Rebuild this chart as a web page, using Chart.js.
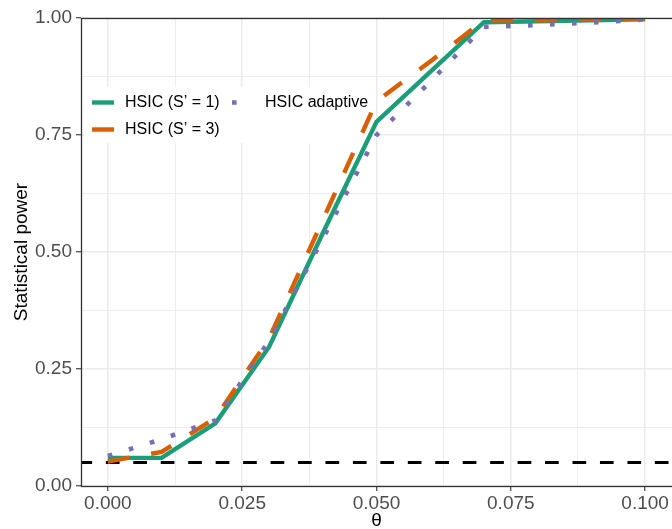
<!DOCTYPE html>
<html>
<head>
<meta charset="utf-8">
<script src="https://cdn.jsdelivr.net/npm/chart.js@4.4.1/dist/chart.umd.min.js"></script>
<style>
  html, body { margin: 0; padding: 0; background: #fff; }
</style>
</head>
<body>
<canvas id="c" width="672" height="529"></canvas>
<script>
// values
var theta = [0, 0.01, 0.02, 0.03, 0.04, 0.05, 0.06, 0.07, 0.08, 0.09, 0.1];
var powerS1 = [0.060, 0.060, 0.134, 0.297, 0.540, 0.778, 0.885, 0.991, 0.993, 0.995, 0.997];
var powerS3 = [0.052, 0.073, 0.145, 0.315, 0.568, 0.822, 0.907, 0.995, 0.995, 0.997, 0.999];
var powerAdaptive = [0.064, 0.100, 0.140, 0.310, 0.528, 0.750, 0.864, 0.981, 0.985, 0.990, 0.997];
var nominalLevel = 0.05;
var seriesLabels = ["HSIC (S\u2019 = 1)", "HSIC (S\u2019 = 3)", "HSIC adaptive"];
var xMajorTicks = [0, 0.025, 0.05, 0.075, 0.1];
var xMinorTicks = [0.0125, 0.0375, 0.0625, 0.0875];
var yMajorTicks = [0, 0.25, 0.5, 0.75, 1];
var yMinorTicks = [0.125, 0.375, 0.625, 0.875];

var FONT = "'Liberation Sans', Arial, sans-serif";
var LEGEND_SLOTS = [{x: 92, y: 102.5}, {x: 92, y: 129.5}, {x: 232, y: 102.5}];

function toPoints(ys){
    return theta.map(function(x, i){ return {x: x, y: ys[i]}; });
}
function tickList(major, minor){
    return major.concat(minor).sort(function(a, b){ return a - b; }).map(function(v){ return {value: v}; });
}
function gridFor(major){
    return {
        color: "#EBEBEB",
        lineWidth: function(c){ return major.indexOf(c.tick.value) >= 0 ? 1.5 : 0.9; },
        tickColor: function(c){ return major.indexOf(c.tick.value) >= 0 ? "#333333" : "rgba(0,0,0,0)"; },
        tickWidth: 1.1,
        tickLength: 5,
        drawTicks: true
    };
}

// dark panel border on top of the lines (right edge falls off the canvas)
var panelBorder = {
    id: "panelBorder",
    afterDatasetsDraw: function(chart){
        var ctx = chart.ctx, a = chart.chartArea;
        ctx.save();
        ctx.strokeStyle = "#333333";
        ctx.lineWidth = 1.3;
        ctx.strokeRect(a.left + 0.5, a.top + 0.5, a.right - a.left + 10, a.bottom - a.top);
        ctx.restore();
    }
};

// ggplot-like legend inside the panel, two columns
var insideLegend = {
    id: "insideLegend",
    beforeDatasetsDraw: function(chart){
        // white background hides the grid, lines still pass over it
        chart.ctx.save();
        chart.ctx.fillStyle = "#ffffff";
        chart.ctx.fillRect(85, 87, 291, 56);
        chart.ctx.restore();
    },
    afterDraw: function(chart){
        var ctx = chart.ctx;
        ctx.save();
        seriesLabels.forEach(function(label, i){
            var ds = chart.data.datasets[i];
            var s = LEGEND_SLOTS[i];
            ctx.beginPath();
            ctx.strokeStyle = ds.borderColor;
            ctx.lineWidth = ds.borderWidth;
            ctx.lineCap = "butt";
            ctx.setLineDash(ds.borderDash || []);
            ctx.moveTo(s.x, s.y);
            ctx.lineTo(s.x + 22, s.y);
            ctx.stroke();
            ctx.setLineDash([]);
            ctx.fillStyle = "#000000";
            ctx.font = "16px " + FONT;
            ctx.textBaseline = "middle";
            ctx.fillText(label, s.x + 33, s.y);
        });
        ctx.restore();
    }
};

new Chart(document.getElementById("c"), {
    type: "line",
    data: {
        datasets: [
            {
                label: seriesLabels[0],
                data: toPoints(powerS1),
                borderColor: "#1B9E77",
                borderWidth: 4.4,
                order: 2
            },
            {
                label: seriesLabels[1],
                data: toPoints(powerS3),
                borderColor: "#D95F02",
                borderWidth: 4.4,
                borderDash: [22, 22],
                order: 1
            },
            {
                label: seriesLabels[2],
                data: toPoints(powerAdaptive),
                borderColor: "#7570B3",
                borderWidth: 4.6,
                borderDash: [4.6, 17.4],
                order: 0
            },
            {
                label: "level",
                data: [{x: -0.005, y: nominalLevel}, {x: 0.105, y: nominalLevel}],
                borderColor: "#000000",
                borderWidth: 3,
                borderDash: [13.7, 13.75],
                borderDashOffset: 2.6,
                order: 3
            }
        ]
    },
    options: {
        responsive: false,
        animation: false,
        devicePixelRatio: 1,
        elements: {
            point: { radius: 0 },
            line: { tension: 0, borderCapStyle: "butt", fill: false }
        },
        layout: { padding: { left: 0, right: 0, top: 18, bottom: 0 }, autoPadding: false },
        plugins: {
            legend: { display: false },
            tooltip: { enabled: false }
        },
        scales: {
            x: {
                type: "linear",
                min: -0.005,
                max: 0.105,
                afterBuildTicks: function(s){ s.ticks = tickList(xMajorTicks, xMinorTicks); },
                afterFit: function(s){ s.height = 43; },
                grid: gridFor(xMajorTicks),
                border: { display: false },
                ticks: {
                    color: "#4D4D4D",
                    font: { family: FONT, size: 19 },
                    padding: 1,
                    maxRotation: 0,
                    autoSkip: false,
                    callback: function(v){ return xMajorTicks.indexOf(v) >= 0 ? v.toFixed(3) : ""; }
                },
                title: {
                    display: true,
                    text: "\u03b8",
                    color: "#000000",
                    font: { family: FONT, size: 19 },
                    padding: { top: 0, bottom: -3.5 }
                }
            },
            y: {
                type: "linear",
                min: 0,
                max: 1,
                afterBuildTicks: function(s){ s.ticks = tickList(yMajorTicks, yMinorTicks); },
                afterFit: function(s){ s.width = 81; },
                grid: gridFor(yMajorTicks),
                border: { display: false },
                ticks: {
                    color: "#4D4D4D",
                    font: { family: FONT, size: 19 },
                    padding: 4,
                    autoSkip: false,
                    callback: function(v){ return yMajorTicks.indexOf(v) >= 0 ? v.toFixed(2) : ""; }
                },
                title: {
                    display: true,
                    text: "Statistical power",
                    color: "#000000",
                    font: { family: FONT, size: 19 },
                    padding: { top: 10, bottom: 0 }
                }
            }
        }
    },
    plugins: [panelBorder, insideLegend]
});
</script>
</body>
</html>
